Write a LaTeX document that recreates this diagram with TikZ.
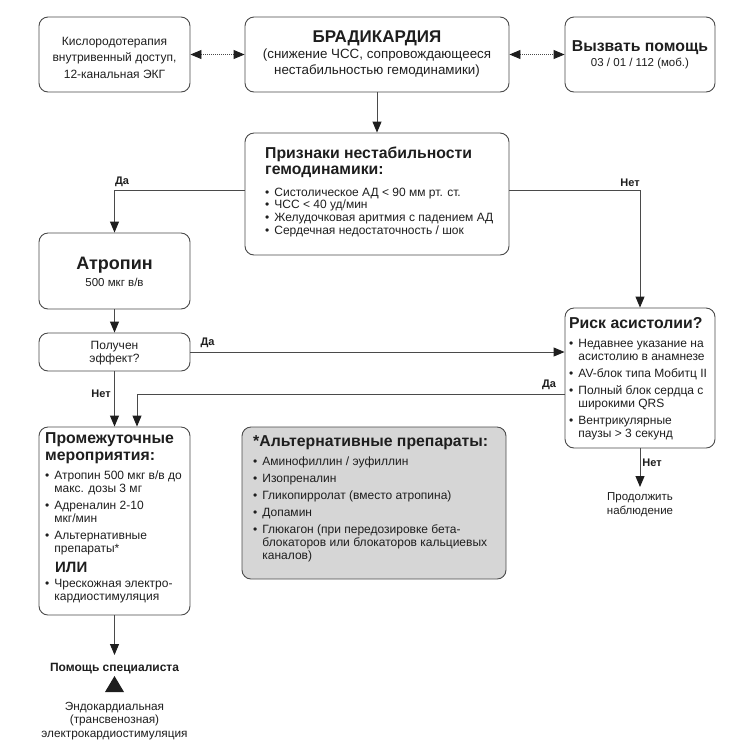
\documentclass[tikz,border=0pt]{standalone}
\usepackage{fontspec}
\setmainfont{Liberation Sans}
\usetikzlibrary{arrows.meta}
\definecolor{ink}{HTML}{1E1E1E}
\definecolor{edge}{HTML}{4A4A4A}
\definecolor{altfill}{HTML}{D6D6D6}
\newcommand\fs[2]{\fontsize{#1}{#2}\selectfont}
\newcommand\bt{\fontsize{15.8}{16}\selectfont\bfseries}
\newcommand\bu{\textbullet}
\tikzset{
  box/.style={draw=edge, line width=0.9pt, rounded corners=9pt, inner sep=0pt},
  txt/.style={text=ink, inner sep=0pt, align=center},
  lst/.style={text=ink, inner sep=0pt, align=left, anchor=north west, font=\fs{12}{13}},
  conn/.style={draw=edge, line width=1pt, -{Triangle[length=11pt,width=9pt,color=ink]}},
  dotc/.style={draw=edge, line width=0.9pt, dash pattern=on 1pt off 1pt,
    {Triangle[length=11pt,width=9pt,color=ink]}-{Triangle[length=11pt,width=9pt,color=ink]}},
  lab/.style={text=ink, inner sep=0pt, font=\fs{11}{12}\bfseries}
}
\begin{document}
\begin{tikzpicture}[x=1pt,y=-1pt]
\useasboundingbox (0,0) rectangle (755,748);
% boxes
\node[box, minimum width=151pt, minimum height=75pt] (b1) at (114.5,54.5) {};
\node[box, minimum width=264pt, minimum height=75pt] (b2) at (377,54.5) {};
\node[box, minimum width=150pt, minimum height=75pt] (b3) at (640,54.5) {};
\node[box, minimum width=264pt, minimum height=122pt] (b4) at (377,194) {};
\node[box, minimum width=151pt, minimum height=76pt] (atr) at (114.5,271) {};
\node[box, minimum width=151pt, minimum height=38pt] (eff) at (114.5,352) {};
\node[box, minimum width=150pt, minimum height=140pt] (risk) at (640,378) {};
\node[box, minimum width=151pt, minimum height=188pt] (mid) at (114.5,521) {};
\node[box, fill=altfill, minimum width=264pt, minimum height=152pt] (alt) at (374,503) {};

% texts
\node[txt, font=\fs{12}{16.5}] (t1) at (114.5,57.5) {Кислородотерапия\\внутривенный доступ,\\12-канальная ЭКГ};
\node[txt, font=\fs{17}{16}\bfseries] (t2a) at (377,38.5) {БРАДИКАРДИЯ};
\node[txt, font=\fs{13.35}{16.5}] (t2b) at (377,63) {(снижение ЧСС, сопровождающееся\\нестабильностью гемодинамики)};
\node[txt, font=\bt] (t3a) at (640,48) {Вызвать помощь};
\node[txt, font=\fs{11.5}{13}] (t3b) at (640,63) {03 / 01 / 112 (моб.)};

\node[lst] (t4) at (265,146.5) {\begin{tabular}{@{}l@{\hspace{5pt}}l@{}}
\multicolumn{2}{@{}l@{}}{\bt Признаки нестабильности}\\[3pt]
\multicolumn{2}{@{}l@{}}{\bt гемодинамики:}\\[9pt]
\bu & Систолическое АД < 90 мм рт. ст.\\[-0.3pt]
\bu & ЧСС < 40 уд/мин\\[-0.3pt]
\bu & Желудочковая аритмия с падением АД\\[-0.3pt]
\bu & Сердечная недостаточность / шок
\end{tabular}};

\node[txt, font=\fs{18}{18}\bfseries] (ta1) at (114.5,265.5) {Атропин};
\node[txt, font=\fs{11.5}{13}] (ta2) at (114.5,282.5) {500 мкг в/в};

\node[txt, font=\fs{12}{13}] (te) at (114.5,353) {Получен\\эффект?};

\node[lst] (tr) at (569,317.5) {\begin{tabular}{@{}l@{\hspace{5pt}}l@{}}
\multicolumn{2}{@{}l@{}}{\bt Риск асистолии?}\\[5.5pt]
\bu & Недавнее указание на\\ & асистолию в анамнезе\\[4pt]
\bu & AV-блок типа Мобитц II\\[4pt]
\bu & Полный блок сердца с\\ & широкими QRS\\[4pt]
\bu & Вентрикулярные\\ & паузы > 3 секунд
\end{tabular}};

\node[lst] (tm) at (45,432) {\begin{tabular}{@{}l@{\hspace{5pt}}l@{}}
\multicolumn{2}{@{}l@{}}{\bt Промежуточные}\\[4pt]
\multicolumn{2}{@{}l@{}}{\bt мероприятия:}\\[6.5pt]
\bu & Атропин 500 мкг в/в до\\ & макс. дозы 3 мг\\[4pt]
\bu & Адреналин 2-10\\ & мкг/мин\\[4pt]
\bu & Альтернативные\\ & препараты*\\[2.5pt]
\rule{0pt}{10.7pt} & \\[5pt]
\bu & Чрескожная электро-\\ & кардиостимуляция
\end{tabular}};
\node[text=ink, inner sep=0pt, anchor=base west, font=\fs{15}{14}\bfseries] (ili) at (55,572.4) {ИЛИ};

\node[lst] (tl) at (253,435) {\begin{tabular}{@{}l@{\hspace{5pt}}l@{}}
\multicolumn{2}{@{}l@{}}{\bt *Альтернативные препараты:}\\[6.5pt]
\bu & Аминофиллин / эуфиллин\\[3.5pt]
\bu & Изопреналин\\[4.5pt]
\bu & Гликопирролат (вместо атропина)\\[4pt]
\bu & Допамин\\[4pt]
\bu & Глюкагон (при передозировке бета-\\ & блокаторов или блокаторов кальциевых\\ & каналов)
\end{tabular}};

\node[txt, font=\fs{11.5}{13.5}, anchor=north, outer ysep=6pt] (cont) at (640,487) {Продолжить\\наблюдение};
\node[txt, font=\fs{12}{14}\bfseries, anchor=north, outer ysep=8pt] (spec) at (114.5,655) {Помощь специалиста};
\node[txt, font=\fs{11.8}{13.5}, anchor=north] (endo) at (114.5,702) {Эндокардиальная\\(трансвенозная)\\электрокардиостимуляция};
\fill[ink] (105,692) -- (114.5,676) -- (124,692) -- cycle;

% connectors
\draw[dotc] (b1) -- (b2);
\draw[dotc] (b2) -- (b3);
\draw[conn] (b2) -- (b4);
\draw[conn] ([yshift=4pt]b4.west) -| (atr.north);
\draw[conn] ([yshift=4pt]b4.east) -| (risk.north);
\draw[conn] (atr) -- (eff);
\draw[conn] (eff.east) -- (eff.east -| risk.west);
\draw[conn] (eff) -- (mid);
\draw[conn] ([yshift=-16pt]risk.west) -| ([xshift=22.5pt]mid.north);
\draw[conn] (risk.south) -- (cont.north);
\draw[conn] (mid.south) -- (spec.north);

% labels
\node[lab] (l1) at (122,182) {Да};
\node[lab] (l2) at (630,183) {Нет};
\node[lab] (l3) at (207.5,343) {Да};
\node[lab] (l4) at (101,394) {Нет};
\node[lab] (l5) at (549,385) {Да};
\node[lab] (l6) at (652,463) {Нет};
\end{tikzpicture}
\end{document}
